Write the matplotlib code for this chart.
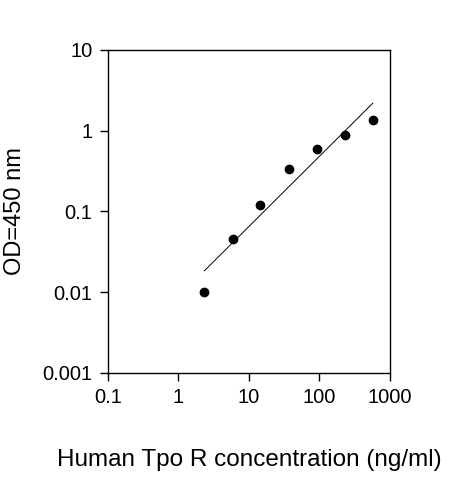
import numpy as np
import matplotlib
matplotlib.use('Agg')
import matplotlib.pyplot as plt
from matplotlib.ticker import FixedLocator, NullLocator

conc = [2.34, 5.86, 14.6, 36.6, 91.5, 229, 572]
od = [0.010, 0.045, 0.12, 0.34, 0.59, 0.89, 1.36]
x_ticks = [0.1, 1, 10, 100, 1000]
x_labels = ['0.1', '1', '10', '100', '1000']
y_ticks = [0.001, 0.01, 0.1, 1, 10]
y_labels = ['0.001', '0.01', '0.1', '1', '10']

plt.rcParams['font.family'] = ['Liberation Sans', 'DejaVu Sans']

fig = plt.figure(figsize=(4.63, 4.8), dpi=100)
ax = fig.add_axes([0.233, 0.223, 0.609, 0.673])

# log-log linear fit
p = np.polyfit(np.log10(conc), np.log10(od), 1)
xf = np.array([conc[0], conc[-1]])
ax.plot(xf, 10 ** np.polyval(p, np.log10(xf)), color='black', lw=0.7)
ax.plot(conc, od, 'o', color='black', ms=6)

ax.set_xscale('log')
ax.set_yscale('log')
ax.set_xlim(0.1, 1000)
ax.set_ylim(0.001, 10)
ax.xaxis.set_major_locator(FixedLocator(x_ticks))
ax.yaxis.set_major_locator(FixedLocator(y_ticks))
ax.xaxis.set_minor_locator(NullLocator())
ax.yaxis.set_minor_locator(NullLocator())
ax.set_xticklabels(x_labels, fontsize=14.5)
ax.set_yticklabels(y_labels, fontsize=14.5)
ax.tick_params(direction='out', length=6, width=1, pad=5)
for s in ax.spines.values():
    s.set_linewidth(1)

ax.set_xlabel('Human Tpo R concentration (ng/ml)', fontsize=17.5, labelpad=30)
ax.set_ylabel('OD=450 nm', fontsize=17, labelpad=12)

fig.savefig('out.png', dpi=100)
